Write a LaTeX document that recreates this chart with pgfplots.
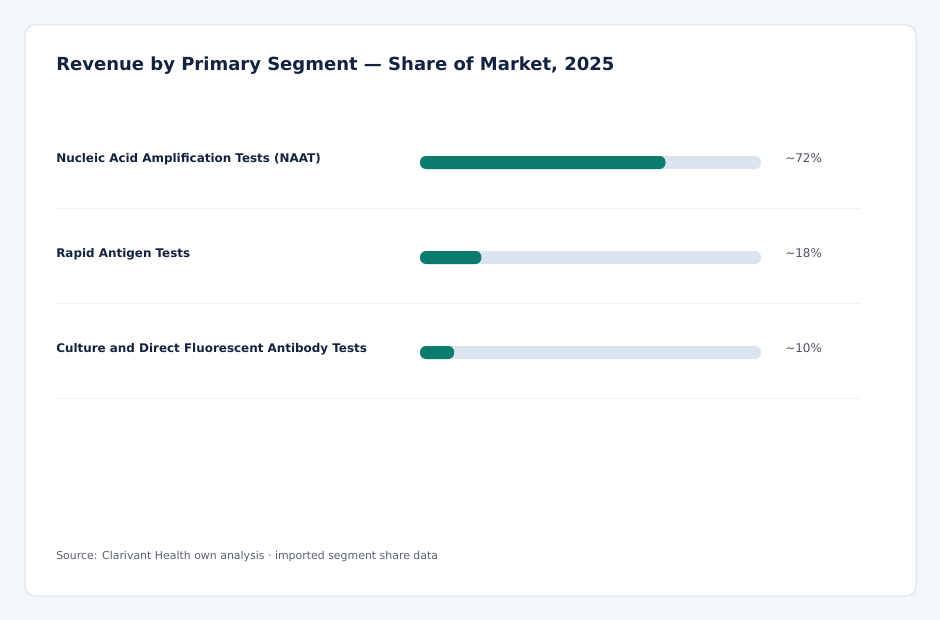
\documentclass[border=0pt]{standalone}
\usepackage{pgfplots}
\usepackage{pgfplotstable}
\pgfplotsset{compat=1.18}
\usepackage{fontspec}
\setmainfont{DejaVu Sans}
\definecolor{pagebg}{HTML}{F4F7FA}
\definecolor{cardborder}{HTML}{DCE1E7}
\definecolor{titlec}{HTML}{13223F}
\definecolor{barc}{HTML}{0B7B6E}
\definecolor{trackc}{HTML}{DBE4EE}
\definecolor{sepc}{HTML}{EEF1F4}
\definecolor{valc}{HTML}{4A5260}
\definecolor{srcc}{HTML}{5A6270}
\pgfplotstableread{
y share track
162.5 72 100
257.5 18 100
352.5 10 100
}\shares
\begin{document}
\begin{tikzpicture}[x=0.75pt,y=-0.75pt]
\fill[pagebg] (0,0) rectangle (940,620);
\filldraw[fill=white,draw=cardborder,line width=0.75pt,rounded corners=7.5pt] (25,25) rectangle (916,596);
\node[anchor=base west,inner sep=0pt,text=titlec,font=\fontsize{13.5}{16}\selectfont\bfseries] at (56,71) {Revenue by Primary Segment — Share of Market, 2025};
\foreach \yy in {208.5,303.5,398.5}{\draw[sepc,line width=0.75pt] (56,\yy) -- (861,\yy);}
\foreach \yy/\lab/\val in {163/Nucleic Acid Amplification Tests (NAAT)/72,258/Rapid Antigen Tests/18,353/Culture and Direct Fluorescent Antibody Tests/10}{
  \node[anchor=base west,inner sep=0pt,text=titlec,font=\fontsize{8.95}{11}\selectfont\bfseries] at (56,\yy) {\lab};
  \node[anchor=base west,inner sep=0pt,text=valc,font=\fontsize{9}{11}\selectfont] at (785,\yy) {\char`~\val\%};
}
\node[anchor=base west,inner sep=0pt,text=srcc,font=\fontsize{8.2}{10}\selectfont] at (56,559) {Source: Clarivant Health own analysis · imported segment share data};
\begin{axis}[
  at={(0,620)},anchor=south west,
  scale only axis,width=705pt,height=465pt,
  xmin=-123.167,xmax=152.493,
  ymin=0,ymax=620,y dir=reverse,
  hide axis,clip=false,
]
\addplot[xbar,bar shift=0pt,bar width=9.75pt,fill=trackc,draw=none,rounded corners=4.5pt] table[x=track,y=y] {\shares};
\addplot[xbar,bar shift=0pt,bar width=9.75pt,fill=barc,draw=none,rounded corners=4.5pt] table[x=share,y=y] {\shares};
\end{axis}
\end{tikzpicture}
\end{document}
